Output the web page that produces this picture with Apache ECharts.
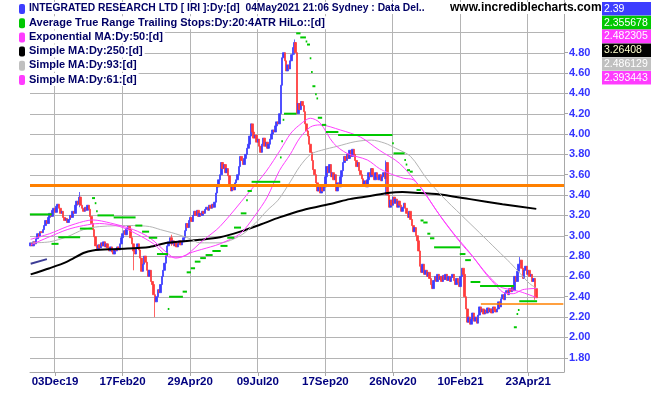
<!DOCTYPE html>
<html><head><meta charset="utf-8">
<script src="https://cdn.jsdelivr.net/npm/echarts@6/dist/echarts.min.js"></script>
<style>html,body{margin:0;padding:0;background:#fff}#c{width:651px;height:395px}</style>
</head><body><div id="c"></div>
<script>
// ---- daily closes (index 0 = 07Nov19) ----
const closes = [
2.93,2.90,2.94,2.92,2.97,3.02,2.99,3.04,3.03,3.06,
3.10,3.15,3.12,3.18,3.22,3.19,3.25,3.27,3.23,3.29,
3.31,3.27,3.22,3.24,3.18,3.15,3.17,3.13,3.16,3.20,
3.18,3.24,3.22,3.30,3.34,3.31,3.38,3.30,3.27,3.24,
3.28,3.25,3.30,3.26,3.19,3.12,3.06,2.99,2.90,2.86,
2.91,2.88,2.93,2.90,2.94,2.89,2.92,2.88,2.85,2.89,
2.84,2.82,2.87,2.85,2.89,2.86,2.92,2.98,3.02,3.05,
3.01,3.07,3.10,3.06,2.98,2.92,2.85,2.82,2.88,2.92,
2.86,2.78,2.65,2.72,2.80,2.74,2.66,2.60,2.66,2.55,
2.52,2.42,2.35,2.40,2.47,2.44,2.52,2.60,2.66,2.73,
2.80,2.90,2.94,2.98,2.92,2.95,2.90,2.93,2.89,2.92,
2.95,2.91,2.94,2.98,3.05,3.12,3.08,3.15,3.18,3.14,
3.20,3.24,3.20,3.25,3.19,3.22,3.20,3.24,3.22,3.26,
3.28,3.25,3.30,3.27,3.31,3.28,3.33,3.42,3.48,3.55,
3.60,3.72,3.66,3.70,3.62,3.66,3.59,3.50,3.44,3.48,
3.45,3.52,3.55,3.60,3.68,3.78,3.74,3.70,3.76,3.80,
3.86,3.90,3.98,4.10,4.02,3.96,3.99,3.92,3.95,3.88,
3.82,3.90,3.96,3.88,3.92,3.86,3.90,3.95,4.00,4.04,
4.02,4.08,4.12,4.10,4.20,4.48,4.75,4.80,4.72,4.62,
4.68,4.64,4.72,4.78,4.85,4.90,4.80,4.20,4.30,4.24,
4.32,4.28,4.22,4.10,4.03,3.98,3.90,3.82,3.74,3.65,
3.60,3.52,3.44,3.48,3.42,3.50,3.44,3.48,3.58,3.68,
3.62,3.70,3.58,3.62,3.55,3.60,3.44,3.52,3.48,3.58,
3.64,3.72,3.78,3.74,3.80,3.76,3.84,3.78,3.85,3.80,
3.74,3.68,3.72,3.64,3.60,3.56,3.50,3.54,3.48,3.55,
3.62,3.58,3.66,3.60,3.55,3.62,3.58,3.55,3.60,3.54,
3.58,3.62,3.56,3.72,3.40,3.28,3.35,3.30,3.38,3.32,
3.36,3.28,3.34,3.30,3.24,3.28,3.32,3.27,3.22,3.18,
3.24,3.16,3.10,3.04,3.08,3.00,2.95,2.85,2.70,2.64,
2.72,2.62,2.66,2.60,2.64,2.58,2.52,2.48,2.56,2.60,
2.55,2.62,2.57,2.60,2.55,2.61,2.57,2.62,2.56,2.60,
2.55,2.59,2.62,2.56,2.52,2.58,2.54,2.50,2.60,2.68,
2.62,2.40,2.28,2.15,2.20,2.13,2.18,2.24,2.16,2.20,
2.14,2.22,2.30,2.25,2.28,2.23,2.27,2.24,2.29,2.25,
2.28,2.24,2.30,2.27,2.25,2.28,2.35,2.30,2.38,2.42,
2.37,2.44,2.46,2.42,2.48,2.45,2.50,2.46,2.60,2.55,
2.65,2.72,2.76,2.68,2.58,2.66,2.70,2.62,2.66,2.60,
2.62,2.55,2.58,2.48,2.39
];
const firstOpen = 2.90;
// notable wick extremes: [index, low, high]
const wicks = [[36,3.28,3.43],[76,2.66,2.92],[92,2.20,2.42],[104,2.90,3.01],[195,4.78,4.93],[263,3.40,3.74],[362,2.68,2.79],[373,2.37,2.58]];

// ---- indicator lines: [bar index, value] ----
const ema50 = [[0,2.965],[14,3.02],[27,3.09],[39,3.14],[46,3.155],[59,3.125],[76,3.06],[88,2.98],[101,2.83],[107,2.78],[115,2.81],[128,2.96],[140,3.09],[161,3.42],[174,3.63],[185,3.85],[192,4.00],[198,4.08],[207,4.155],[214,4.11],[224,3.91],[234,3.81],[249,3.745],[258,3.66],[266,3.61],[276,3.565],[283,3.55],[290,3.45],[300,3.25],[313,3.02],[325,2.83],[337,2.62],[345,2.50],[350,2.44],[357,2.43],[364,2.47],[374,2.482]];
const sma61 = [[0,2.91],[14,2.99],[27,3.06],[39,3.10],[51,3.12],[66,3.09],[78,3.02],[91,2.92],[103,2.79],[110,2.79],[120,2.84],[133,2.89],[140,2.92],[155,3.02],[166,3.20],[175,3.38],[184,3.64],[192,3.80],[199,3.96],[207,4.07],[214,4.09],[229,4.04],[244,3.97],[258,3.84],[273,3.71],[288,3.48],[295,3.35],[305,3.155],[318,2.93],[327,2.795],[337,2.63],[347,2.50],[355,2.47],[362,2.45],[374,2.393]];
const sma93 = [[0,2.93],[14,2.94],[27,2.99],[39,3.06],[51,3.09],[76,3.10],[88,3.09],[96,3.06],[107,3.02],[118,2.97],[125,2.93],[140,2.93],[155,3.00],[166,3.12],[175,3.25],[183,3.35],[192,3.53],[199,3.68],[207,3.80],[215,3.84],[227,3.88],[240,3.925],[252,3.94],[262,3.91],[270,3.86],[281,3.78],[293,3.56],[305,3.38],[318,3.21],[332,3.03],[345,2.86],[355,2.73],[362,2.63],[369,2.53],[374,2.486]];
const sma250 = [[0,2.62],[14,2.68],[27,2.745],[39,2.83],[46,2.855],[64,2.87],[88,2.89],[101,2.93],[125,2.96],[140,2.985],[155,3.04],[170,3.11],[184,3.18],[201,3.25],[224,3.32],[236,3.36],[251,3.39],[264,3.42],[275,3.43],[288,3.42],[300,3.41],[325,3.36],[349,3.31],[374,3.264]];
// ATR trailing stop runs: [first bar, last bar, level]
const atrStops = [[0,15,3.21],[16,20,2.92],[21,36,2.985],[37,45,3.07],[46,47,3.37],[48,48,3.32],[49,49,3.24],[50,61,3.20],[62,77,3.18],[78,82,3.10],[83,87,3.04],[88,93,2.98],[94,101,2.82],[102,102,2.28],[103,112,2.40],[113,115,2.45],[116,118,2.64],[119,121,2.68],[122,125,2.745],[126,129,2.78],[130,134,2.81],[135,140,2.85],[141,145,2.90],[146,150,2.98],[151,155,3.08],[156,159,3.22],[160,160,3.35],[161,163,3.44],[164,184,3.53],[185,185,3.77],[186,186,3.93],[187,187,4.14],[188,196,4.20],[197,199,4.99],[200,203,4.95],[204,204,4.91],[205,206,4.88],[207,207,4.745],[208,208,4.61],[209,210,4.47],[211,211,4.39],[212,212,4.35],[213,215,4.16],[216,218,4.09],[219,227,4.02],[228,267,3.99],[268,268,3.91],[269,276,3.81],[277,277,3.745],[278,278,3.70],[279,280,3.645],[281,282,3.63],[284,285,3.50],[286,288,3.45],[289,290,3.15],[291,293,3.13],[294,295,3.02],[296,298,2.975],[299,317,2.886],[318,321,2.82],[322,325,2.76],[326,332,2.545],[333,357,2.505],[358,359,2.10],[360,360,2.23],[361,361,2.27],[362,374,2.356]];
const levelLine = 3.50;
const supportLine = [333, 394, 2.335];
const trendLine = [[0,2.725],[12,2.77]];

// ---- axes ----
const startDay = [2019, 10, 7];
const totalSlots = 395;
const holidays = ['2019-12-25','2019-12-26','2020-01-01','2020-01-27','2020-04-10','2020-04-13','2020-06-08','2020-12-25','2020-12-28','2021-01-01','2021-01-26','2021-04-02','2021-04-05','2021-04-26'];
const tickLabels = ['03Dec19','17Feb20','29Apr20','09Jul20','17Sep20','26Nov20','10Feb21','23Apr21'];
const yGridValues = [1.8,2.0,2.2,2.4,2.6,2.8,3.0,3.2,3.4,3.6,3.8,4.0,4.2,4.4,4.6,4.8,5.0];
const yLabelValues = [1.8,2.0,2.2,2.4,2.6,2.8,3.0,3.2,3.4,3.6,3.8,4.0,4.2,4.4,4.6,4.8];

// ---- legend ----
const legendTexts = ['INTEGRATED RESEARCH LTD [ IRI ]:Dy:[d]  04May2021 21:06 Sydney : Data Del..','Average True Range Trailing Stops:Dy:20:4ATR HiLo::[d]','Exponential MA:Dy:50:[d]','Simple MA:Dy:250:[d]','Simple MA:Dy:93:[d]','Simple MA:Dy:61:[d]'];
const legendColors = ['#3d3dff','#00c800','#ff3cff','#000000','#c0c0c0','#ff3cff'];
const lastValues = ['2.39','2.355678','2.482305','3.26408','2.486129','2.393443'];
const lastValueText = ['#ffffff','#ffffff','#ffffff','#ffffcc','#ffffff','#ffffff'];
const siteText = 'www.incrediblecharts.com';

// build trading-day categories
const mon = ['Jan','Feb','Mar','Apr','May','Jun','Jul','Aug','Sep','Oct','Nov','Dec'];
const cats = [];
let t = Date.UTC(startDay[0], startDay[1], startDay[2]);
while (cats.length < totalSlots) {
  const d = new Date(t);
  const wd = d.getUTCDay();
  const iso = d.toISOString().slice(0, 10);
  if (wd !== 0 && wd !== 6 && holidays.indexOf(iso) < 0) {
    cats.push(String(d.getUTCDate()).padStart(2, '0') + mon[d.getUTCMonth()] + String(d.getUTCFullYear() % 100).padStart(2, '0'));
  }
  t += 86400000;
}
const candles = closes.map((c, i) => {
  const o = i === 0 ? firstOpen : closes[i - 1];
  return [o, c, Math.min(o, c), Math.max(o, c)];
});
wicks.forEach(w => {
  const k = candles[w[0]];
  k[2] = Math.min(k[2], w[1]);
  k[3] = Math.max(k[3], w[2]);
});
const isTick = (idx, val) => tickLabels.indexOf(val) >= 0;
const tickIdx = tickLabels.map(l => cats.indexOf(l));

const chart = echarts.init(document.getElementById('c'), null, {renderer: 'canvas'});
const rowH = 14.2;
const graphic = [];
legendTexts.forEach((txt, k) => {
  graphic.push({type: 'text', left: 26, top: 2 + k * rowH, z: 10,
    style: {text: txt, fill: '#000066', font: (k === 0 ? 'bold 10.3px' : 'bold 11px') + ' "Liberation Sans", Arial, sans-serif', backgroundColor: '#ffffff', padding: [1, 2, 1, 3]}});
  graphic.push({type: 'rect', left: 19, top: 4 + k * rowH, z: 11,
    shape: {width: 6, height: 10, r: 2}, style: {fill: legendColors[k]}});
  graphic.push({type: 'rect', left: 602, top: 2 + k * 13.8, z: 10,
    shape: {width: 49, height: 13.6}, style: {fill: legendColors[k]}});
  graphic.push({type: 'text', left: 604, top: 3.5 + k * 13.8, z: 11,
    style: {text: lastValues[k], fill: lastValueText[k], font: '10.5px "Liberation Sans", Arial, sans-serif'}});
});
graphic.push({type: 'text', left: 450, top: 2, z: 10,
  style: {text: siteText, fill: '#000000', font: 'bold 12px "Liberation Sans", Arial, sans-serif', backgroundColor: '#ffffff'}});

const gridColor = '#b4b4b4';
const axisColor = '#a8a8a8';
const lineBase = {type: 'line', showSymbol: false, symbol: 'none', smooth: 0.3, silent: true, z: 3};
chart.setOption({
  animation: false,
  backgroundColor: '#ffffff',
  grid: {left: 30, right: 87, top: 0, bottom: 23, containLabel: false},
  xAxis: {
    type: 'category', data: cats, boundaryGap: true,
    axisLine: {show: true, lineStyle: {color: axisColor, width: 1}},
    axisTick: {show: true, interval: isTick, alignWithLabel: true, length: 4, lineStyle: {color: axisColor}},
    splitLine: {show: false},
    axisLabel: {interval: isTick, color: '#00007f', fontWeight: 'bold', fontSize: 11.5, fontFamily: '"Liberation Sans", Arial, sans-serif', margin: 4}
  },
  yAxis: {
    type: 'value', position: 'right', min: 1.66, max: 5.318, scale: true,
    axisLine: {show: true, lineStyle: {color: axisColor, width: 1}},
    axisTick: {show: true, length: 4, customValues: yLabelValues, lineStyle: {color: axisColor}},
    splitLine: {show: false},
    axisLabel: {customValues: yLabelValues, formatter: v => v.toFixed(2), color: '#3333ff', fontWeight: 'bold', fontSize: 11, fontFamily: '"Liberation Sans", Arial, sans-serif', margin: 5}
  },
  graphic: graphic,
  series: [
    {type: 'custom', name: 'hgrid', silent: true, z: 1, data: yGridValues.map(v => [0, v]),
      encode: {x: 0, y: 1},
      renderItem: (params, api) => {
        const cs = params.coordSys;
        const y = Math.round(api.coord([0, api.value(1)])[1]);
        return {type: 'rect', shape: {x: cs.x, y: y, width: cs.width, height: 1}, style: {fill: gridColor}};
      }},
    {type: 'custom', name: 'vgrid', silent: true, z: 1, data: tickIdx.map(i => [i, 3]),
      encode: {x: 0, y: 1},
      renderItem: (params, api) => {
        const cs = params.coordSys;
        const bw = api.size([1, 0])[0];
        const x = Math.round(api.coord([api.value(0), 3])[0] - bw / 2);
        return {type: 'rect', shape: {x: x, y: cs.y, width: 1, height: cs.height}, style: {fill: gridColor}};
      }},
    {type: 'candlestick', data: candles, barWidth: 2, silent: true, z: 2,
      itemStyle: {color: '#3d3dff', color0: '#ff3c3c', borderColor: '#3d3dff', borderColor0: '#ff3c3c', borderWidth: 0.8},
      markLine: {symbol: 'none', silent: true, label: {show: false}, animation: false,
        data: [
          {yAxis: levelLine, lineStyle: {color: '#ff8000', width: 3, type: 'solid'}},
          [{coord: [supportLine[0], supportLine[2]], lineStyle: {color: '#ff8000', width: 1.5, type: 'solid'}}, {coord: [supportLine[1], supportLine[2]]}]
        ]}
    },
    Object.assign({}, lineBase, {name: 'SMA250', data: sma250, lineStyle: {color: '#000000', width: 2}}),
    Object.assign({}, lineBase, {name: 'SMA93', data: sma93, lineStyle: {color: '#b4b4b4', width: 1}}),
    Object.assign({}, lineBase, {name: 'EMA50', data: ema50, lineStyle: {color: '#ff40ff', width: 1}}),
    Object.assign({}, lineBase, {name: 'SMA61', data: sma61, lineStyle: {color: '#ff40ff', width: 1}}),
    Object.assign({}, lineBase, {name: 'trend', smooth: false, data: trendLine, lineStyle: {color: '#3c3c96', width: 2}}),
    {type: 'custom', name: 'ATR stops', silent: true, z: 4, data: atrStops,
      encode: {x: [0, 1], y: 2},
      renderItem: (params, api) => {
        const v = api.value(2);
        const p0 = api.coord([api.value(0), v]);
        const p1 = api.coord([api.value(1), v]);
        const bw = api.size([1, 0])[0];
        return {type: 'rect', shape: {x: p0[0] - bw * 0.6, y: p0[1] - 1, width: p1[0] - p0[0] + bw * 1.2, height: 2}, style: {fill: '#00c800'}};
      }}
  ]
});
</script>
</body></html>
